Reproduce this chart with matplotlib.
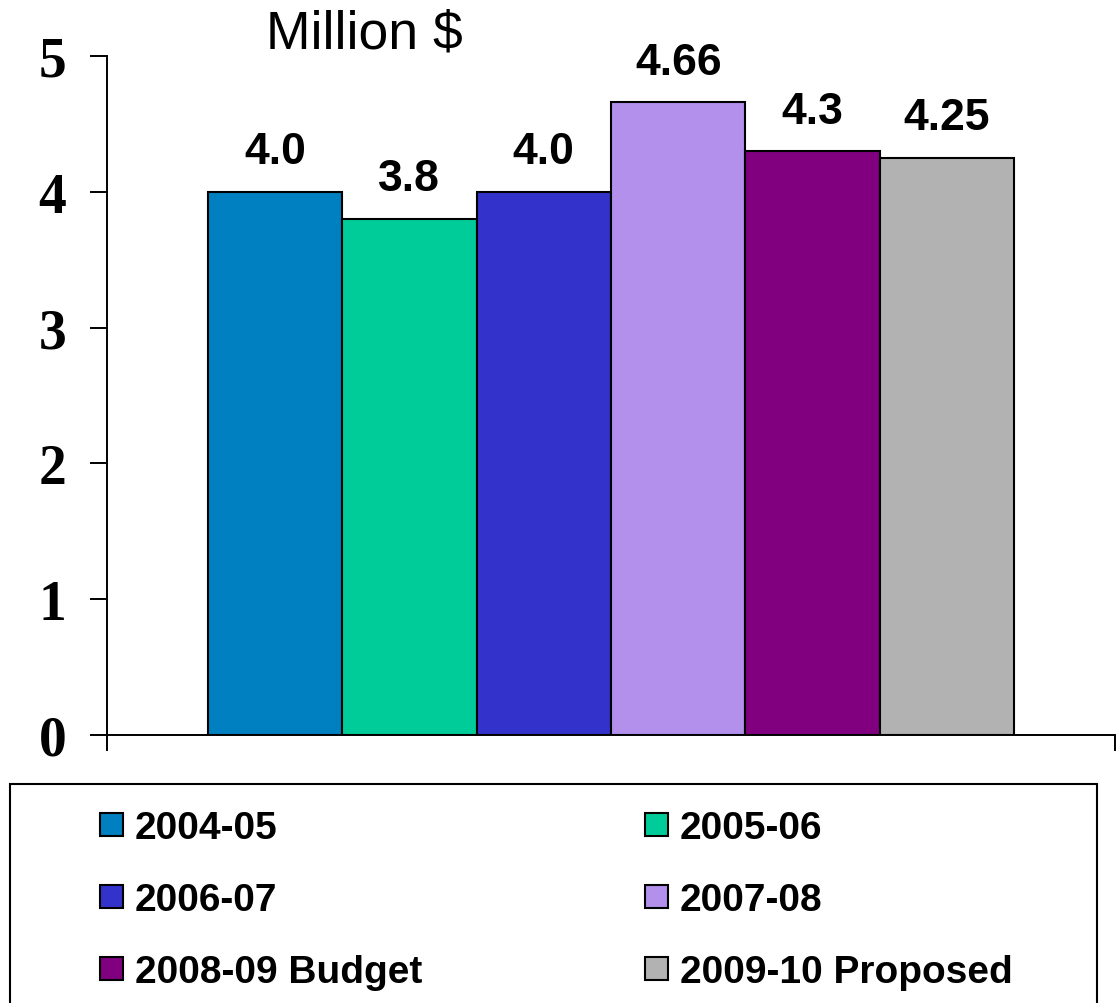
import matplotlib
matplotlib.use('Agg')

import matplotlib.pyplot as plt
from matplotlib.patches import Rectangle

# fiscal years and spending, million $
years = ['2004-05', '2005-06', '2006-07', '2007-08', '2008-09 Budget', '2009-10 Proposed']
values = [4.0, 3.8, 4.0, 4.66, 4.3, 4.25]
value_labels = ['4.0', '3.8', '4.0', '4.66', '4.3', '4.25']
colors = ['#0080C0', '#00CC99', '#3333CC', '#B290EC', '#800080', '#B2B2B2']
yticks = [0, 1, 2, 3, 4, 5]

W, H = 1116, 1004
fig = plt.figure(figsize=(W / 100, H / 100), dpi=100)

def fx(px):
    return px / W

def fy(py):
    return 1 - py / H

ax = fig.add_axes([fx(107), fy(736), fx(1115) - fx(107), fy(57) - fy(736)])

xpos = list(range(len(values)))
ax.bar(xpos, values, width=1.0, color=colors, edgecolor='black', linewidth=1.5)

for x, v, s in zip(xpos, values, value_labels):
    ax.annotate(s, (x, v), xytext=(0, 20.5), textcoords='offset points',
                ha='center', va='baseline', fontsize=32, fontweight='bold',
                family='Liberation Sans')

ax.set_xlim(-1.25, 6.25)
ax.set_ylim(0, 5)
ax.set_xticks([-1.25, 6.25])
ax.set_xticklabels([])
ax.set_yticks(yticks)
ax.set_yticklabels([str(t) for t in yticks], fontsize=40, fontweight='bold',
                   family='Liberation Serif')
ax.tick_params(axis='y', length=12.2, width=1.4, pad=17)
ax.tick_params(axis='x', length=11.5, width=1.4)
for side in ['top', 'right']:
    ax.spines[side].set_visible(False)
for side in ['left', 'bottom']:
    ax.spines[side].set_linewidth(1.4)

fig.text(fx(364), fy(48), 'Million $', ha='center', va='baseline',
         fontsize=38.5, family='Liberation Sans')

# legend box, bottom edge runs off the figure
fig.patches.append(Rectangle((fx(10), fy(1020)), fx(1097) - fx(10), fy(785) - fy(1020),
                             transform=fig.transFigure, fill=False,
                             edgecolor='black', linewidth=1.5))

col_x = [100, 645]
row_base = [839, 911, 983]
for i, (label, c) in enumerate(zip(years, colors)):
    cx = col_x[i % 2]
    base = row_base[i // 2]
    fig.patches.append(Rectangle((fx(cx), fy(base - 2)), fx(23), fy(0) - fy(23),
                                 transform=fig.transFigure, facecolor=c,
                                 edgecolor='black', linewidth=1.5))
    fig.text(fx(cx + 35), fy(base), label, ha='left', va='baseline',
             fontsize=28, fontweight='bold', family='Liberation Sans')

fig.savefig('out.png', dpi=100)
